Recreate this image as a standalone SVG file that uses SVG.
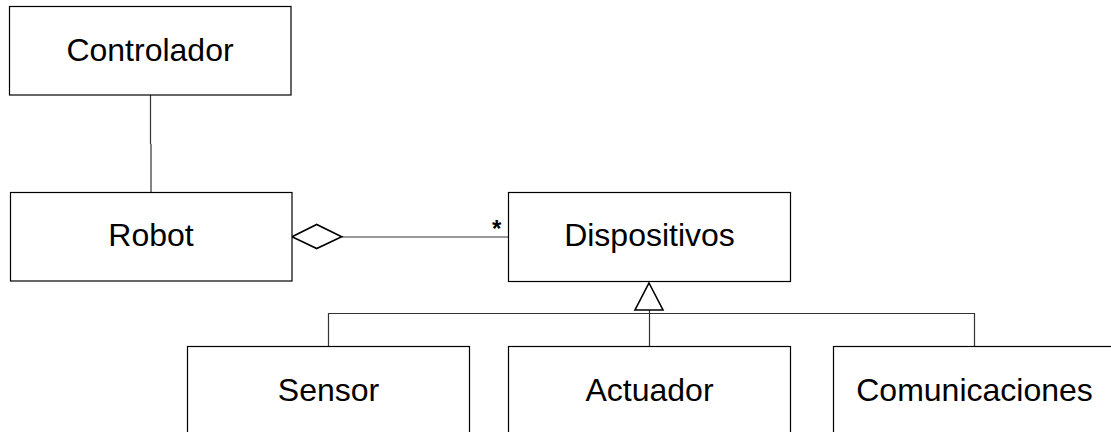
<svg xmlns="http://www.w3.org/2000/svg" width="1111" height="432" viewBox="0 0 1111 432">
<style>
.box{fill:#fff;stroke:#000;stroke-width:1.2}
.lbl{font-family:"Liberation Sans",Arial,sans-serif;font-size:32px;fill:#000;text-anchor:middle}
.con{fill:none;stroke:#333;stroke-width:1.2}
.sym{fill:#fff;stroke:#000;stroke-width:1.6}
</style>
<rect width="1111" height="432" fill="#fff"/>
<g id="connectors">
<path class="con" d="M150.5,95 V144 M151,144 V192"/>
<path class="con" d="M342,237 H508.5"/>
<path class="con" d="M649.5,310 V346"/>
<path class="con" d="M328.5,346 V313.5 H974.5 V346"/>
<polygon class="sym" points="292,236.7 316.7,224.5 341.7,236.7 316.7,248.5"/>
<polygon class="sym" points="649,283 663,310 635,310"/>
<text x="496.7" y="236.5" font-family="Liberation Sans,Arial,sans-serif" font-size="24" font-weight="bold" text-anchor="middle">*</text>
</g>
<g id="controlador"><rect class="box" x="9.5" y="6.5" width="281.5" height="88.5"/><text class="lbl" x="150" y="61">Controlador</text></g>
<g id="robot"><rect class="box" x="10.5" y="192.5" width="281.5" height="88.5"/><text class="lbl" x="151" y="246">Robot</text></g>
<g id="dispositivos"><rect class="box" x="508.5" y="192.5" width="282" height="89"/><text class="lbl" x="649.5" y="245.5">Dispositivos</text></g>
<g id="sensor"><rect class="box" x="187.5" y="346.5" width="282" height="100"/><text class="lbl" x="328.5" y="401">Sensor</text></g>
<g id="actuador"><rect class="box" x="508.5" y="346.5" width="282" height="100"/><text class="lbl" x="649.5" y="401">Actuador</text></g>
<g id="comunicaciones"><rect class="box" x="833.5" y="346.5" width="282" height="100"/><text class="lbl" x="974.5" y="401">Comunicaciones</text></g>
</svg>
